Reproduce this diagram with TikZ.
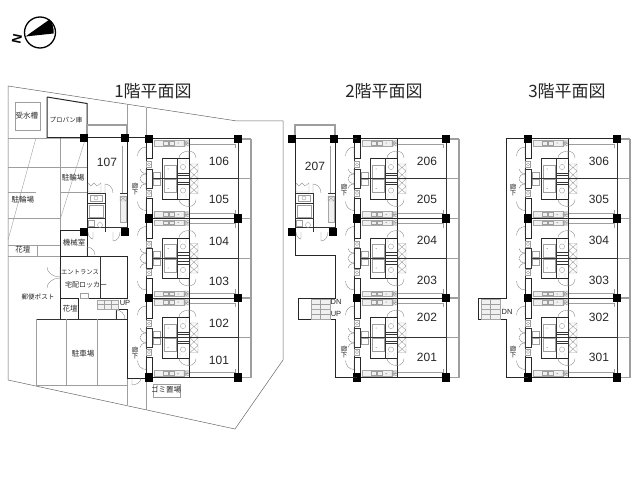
\documentclass[tikz,border=0pt]{standalone}
\usepackage{fontspec}
\setmainfont{Liberation Sans}
\newfontfamily\cjk{Noto Sans CJK JP}
\tikzset{
 wall/.style={draw=black!85,line width=1pt},
 wallthin/.style={draw=black!80,line width=.7pt},
 grayline/.style={draw=black!38,line width=.4pt},
 grayfix/.style={draw=black!35,line width=.4pt,fill=black!6},
 balcony/.style={draw=black!38,line width=1.1pt},
 site/.style={draw=black!60,line width=.5pt},
 doorline/.style={draw=black!50,line width=.35pt},
 column/.style={fill=black,draw=none},
 title/.style={font=\cjk\fontsize{17}{18}\selectfont,text=black!85,inner sep=0pt},
 room/.style={font=\fontsize{12}{13}\selectfont,text=black!85,inner sep=0pt},
 label/.style={font=\cjk\fontsize{7.5}{8}\selectfont,text=black!85,inner sep=0pt},
 small/.style={font=\fontsize{7.5}{8}\selectfont,text=black!85,inner sep=0pt},
}
% quarter door: hinge x,y ; sizes sx,sy
\newcommand\doorq[4]{\begin{scope}[shift={(#1,#2)},xscale=#3,yscale=#4]
 \draw[doorline] (0,0)--(0,1) .. controls (.55,1) and (1,.55) .. (1,0);\end{scope}}
\newcommand\colsq[2]{\fill[column] (#1-4.3,#2-4.3) rectangle (#1+4.3,#2+4.3);}
\newcommand\crossbox[4]{\draw[grayline] (#1,#2) rectangle (#3,#4) (#1,#2)--(#3,#4) (#1,#4)--(#3,#2);}
% one dwelling, kitchen on the y=0 side; origin on the column centre
\newcommand\unithalf{%
 \draw[grayfix] (5,1.5) rectangle (35,7);
 \draw[grayline] (14,2.5) rectangle (19,6) (20,2.5) rectangle (25,6);
 \fill[black!60] (29,4) circle (.5);
 \crossbox{35}{1.5}{39.5}{4.2}\crossbox{35}{4.2}{39.5}{7}
 \draw[grayline] (40,5)--(86,5)--(86,9);
 \draw[wall] (-3,0)--(-3,20) (3.5,0)--(3.5,20)--(-3,20) (13,19.5)--(40,19.5);
 \draw[wall] (40,0)--(40,39.75);
 \draw[wallthin] (-3,20)--(-3,39.75);
 \draw[wallthin] (13,19.5)--(13,39.75) (28.5,19.5)--(28.5,39.75) (28.5,34)--(40,34) (28.5,36.5)--(40,36.5);
 \draw[wallthin] (-3,30)--(3.5,30)--(3.5,39.75);
 \draw[grayline] (15,26) rectangle (27,39) (4.5,33) rectangle (11.5,39);
 \draw[grayline] (-2.5,22.5) rectangle (2.5,28.5);
 \draw[grayline] (0,25.5) circle (1.6);
 \draw[grayline] (34,28) circle (2.6) (31,21)--(31,25) (37,21)--(37,25);
 \fill[black!60] (19,30) circle (.5);
 \draw[grayline] (41,25) rectangle (49,39.5) (41,25)--(49,32) (49,25)--(41,32) (41,32)--(49,39.5) (49,32)--(41,39.5);
 \doorq{-3}{17}{-8.5}{-9}
 \doorq{-3}{30}{-6}{4.5}\doorq{-3}{39.5}{-6}{-4.5}
 \doorq{40}{19}{-10}{-7}
 \doorq{40}{19}{7}{-7}
}
% whole wing of six dwellings
\newcommand\wing[1]{\begin{scope}[shift={(#1,139)}]
 \foreach \yo in {0,79.5,159}{
  \begin{scope}[shift={(0,\yo)}]
   \unithalf
   \begin{scope}[shift={(0,79.5)},yscale=-1]\unithalf\end{scope}
   \draw[wall] (-3,0)--(89,0);
   \draw[wallthin] (3.5,39.75)--(89,39.75);
   \draw[balcony] (89,0)--(102,0);
   \draw[balcony] (89,39.75)--(102,39.75);
  \end{scope}}
 \draw[wall] (-3,238.5)--(89,238.5);
 \draw[wallthin] (89,0)--(89,238.5);
 \draw[balcony] (89,238.5)--(102,238.5)--(102,0);
 \foreach \yy in {0,79.5,159,238.5}{\colsq{0}{\yy}\colsq{89}{\yy}}
\end{scope}}
% dwelling 107 / 207
\newcommand\lunit[1]{\begin{scope}[shift={(#1,0)}]
 \draw[balcony] (0,139)--(0,125)--(40,125)--(40,139);
 \draw[grayline] (35,146)--(35,193);
 \draw[wall] (0,139)--(0,232) (40,139)--(40,232);
 \draw[wallthin] (0,193.5)--(19,193.5) (33,193.5)--(40,193.5) (18,193.5)--(18,232);
 \draw[wallthin] (0,203)--(18,203) (0,218)--(18,218) (0,227)--(40,227);
 \draw[grayline] (3,195) rectangle (15,201) (2,205) rectangle (16,217) (1,220) rectangle (7,226);
 \draw[grayline] (9,198) circle (2) (13,225) circle (2.5);
 \draw[grayfix] (33,196) rectangle (39,222);
 \crossbox{33}{196}{39}{201}
 \draw[grayline] (1,183) -- (4,186) -- (7,183) -- (10,186) -- (14,183) (1,183)--(1,192)--(14,192)--(14,183);
 \doorq{18}{193}{8}{-9}
 \doorq{6}{232}{-5}{7}
 \doorq{26}{232}{7}{9}
\end{scope}}
\begin{document}
\begin{tikzpicture}[x=1pt,y=-1pt]
\useasboundingbox (0,0) rectangle (640,492);
% compass
\node[inner sep=0pt,rotate=78,font=\bfseries\fontsize{13}{13}\selectfont] (north) at (17,39) {N};
\draw[line width=1.3pt] (40,32.5) circle (15.5);
\fill (25.5,36.5) -- (49.5,19.5) .. controls (52.5,23) and (54,28) .. (53.5,33.5) -- cycle;
% titles
\node[title] (t1) at (153,91) {1階平面図};
\node[title] (t2) at (384,91) {2階平面図};
\node[title] (t3) at (567,91) {3階平面図};
% site
\draw[site] (8,86)--(237,121)--(283,121)--(283,360)--(235,429)--(8,380)--cycle;
\draw[grayline] (127,104.5)--(127,125) (146,108)--(146,135) (127,378)--(127,405) (146,378)--(146,410);
\draw[grayline] (8,138)--(47,138) (8,167)--(87,167) (8,192)--(36,192) (60,192)--(87,192) (8,218)--(60,218) (60,138)--(60,230);
\draw[grayline] (36,138)--(8,240) (85,140)--(60,220);
\draw[grayline] (8,245)--(60,245) (8,256)--(60,256) (37,245)--(37,256);
\draw[grayline] (15,102) rectangle (40,130);
\draw[wall] (47,97)--(47,138)--(87,138) (47,97)--(87,103.5)--(87,138);
% first floor rooms
\draw[wall] (47,138)--(146,138);
\lunit{87}
\draw[wall] (87,232)--(87,256);
\draw[wall] (60,230)--(60,319) (60,230)--(84,230) (60,256)--(127,256)--(127,298)--(87,298) (60,298)--(78,298);
\draw[wallthin] (100,256)--(100,298);
\draw[wall] (60,319)--(116,319) (78,298)--(78,319) (116,319)--(116,309)--(127,309)--(127,378)--(146,378);
\draw[wallthin] (36,319) -- (127,319);
\draw[grayline] (36,319)--(36,385)--(127,385) (66,319)--(66,385) (97,319)--(97,385);
\draw[grayfix] (97,300) rectangle (118,309);
\draw[grayline] (104,300)--(104,309) (111,300)--(111,309) (97,304.5)--(118,304.5);
\draw[grayline] (80,293) rectangle (88,298);
\doorq{60}{267}{-13}{10}\doorq{60}{288}{-13}{-10}
\doorq{87}{255}{8}{-8}
\doorq{116}{319}{9}{-9}
\doorq{132}{378}{9}{7}
\draw[grayline] (153,384) rectangle (180,397);
% wings
\wing{149}
\wing{357}
\wing{528}
% second floor
\lunit{295}
\draw[wall] (292,139)--(357,139);
\draw[wall] (295,232)--(295,255)--(335,255)--(335,298)--(298,298)--(298,319)--(335,319)--(335,377.5)--(357,377.5);
\draw[grayfix] (311,299) rectangle (330,309) (311,309.5) rectangle (330,319);
\draw[grayline] (320,299)--(320,319) (311,304)--(330,304) (311,314)--(330,314);
\colsq{292}{139}\colsq{334}{139}\colsq{292}{232}\colsq{333}{232}
% third floor
\draw[wall] (525,139)--(506,139)--(506,298)--(478,298)--(478,319)--(506,319)--(506,377.5)--(528,377.5);
\draw[grayfix] (481,299) rectangle (500,309) (481,309.5) rectangle (500,319);
\draw[grayline] (490,299)--(490,319) (481,304)--(500,304) (481,314)--(500,314);
% labels
\node[label] (tank) at (27,116) {受水槽};
\node[label,font=\cjk\fontsize{6.5}{7}\selectfont] (prop) at (66,120) {プロパン庫};
\node[label] (bike1) at (23,200) {駐輪場};
\node[label] (bike2) at (73,178) {駐輪場};
\node[label] (bed1) at (23,250) {花壇};
\node[label] (mech) at (74,243) {機械室};
\node[label,font=\cjk\fontsize{6.3}{7}\selectfont] (ent) at (80,272) {エントランス};
\node[label,font=\cjk\fontsize{7}{7}\selectfont] (lock) at (86,285) {宅配ロッカー};
\node[label,font=\cjk\fontsize{6.6}{7}\selectfont] (post) at (38,297) {郵便ポスト};
\node[label] (bed2) at (70,309) {花壇};
\node[label] (park) at (83,354) {駐車場};
\node[label] (trash) at (166,390) {ゴミ置場};
\node[small] (up1) at (125,303) {UP};
\node[small] (dn2) at (336,302) {DN};
\node[small] (up2) at (336,314) {UP};
\node[small] (dn3) at (507,312) {DN};
\foreach \nm/\px/\py in {a/135/189,b/135/353,c/344/190,d/344/352,e/513/190,f/513/352}{
 \node[label,align=center,font=\cjk\fontsize{6.5}{6.5}\selectfont] (cor\nm) at (\px,\py) {廊\\下};}
% room numbers
\foreach \n/\px/\py in {106/219/161,105/219/199,104/219/241,103/219/281,102/219/323,101/219/360,
 206/427/161,205/427/199,204/427/240,203/427/280,202/427/317,201/427/357,
 306/599/161,305/599/199,304/599/240,303/599/280,302/599/317,301/599/357,
 107/107/162,207/315/166}{
 \node[room] (r\n) at (\px,\py) {\n};}
\colsq{84}{138}\colsq{125}{138}\colsq{84}{232}\colsq{125}{232}
\end{tikzpicture}
\end{document}
